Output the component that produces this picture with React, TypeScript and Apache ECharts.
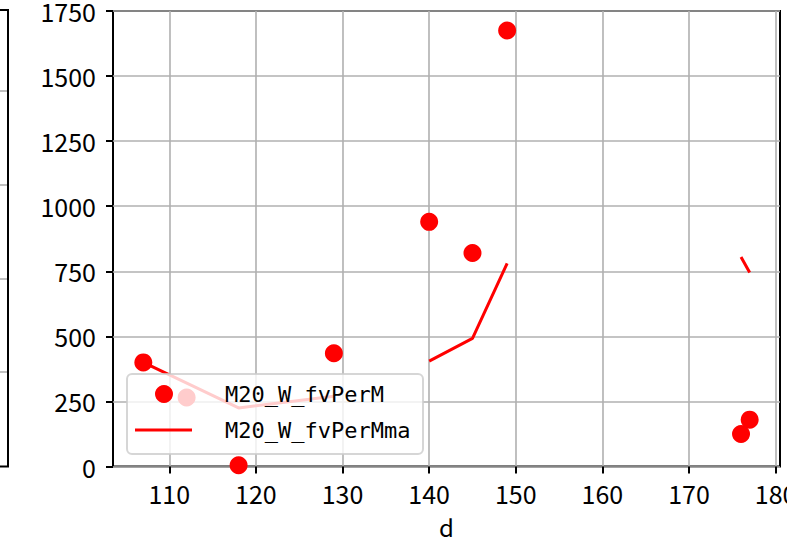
import React, { useEffect, useRef } from "react";
import * as echarts from "echarts";

// Scatter series: M20_W_fvPerM
const scatterD = [107, 112, 118, 129, 140, 145, 149, 176, 177];
const scatterV = [400, 265, 5, 435, 940, 820, 1675, 125, 180];

// Line series: M20_W_fvPerMma (null = gap)
const maD = [107, 118, 129, 134, 140, 145, 149, 160, 176, 177];
const maV: (number | null)[] = [400, 225, 270, null, 405, 492, 780, null, 805, 745];

const xTicks = [110, 120, 130, 140, 150, 160, 170, 180];
const seriesNames = ["M20_W_fvPerM", "M20_W_fvPerMma"];

const RED = "#ff0000";
const TICK_FONT = "'Noto Sans CJK JP', sans-serif";
const LEGEND_FONT = "'DejaVu Sans Mono', monospace";

export default function App() {
  const ref = useRef<HTMLDivElement>(null);
  useEffect(() => {
    if (!ref.current) return;
    const chart = echarts.init(ref.current, null, { renderer: "svg" });
    const L = 113, T = 11, R = 780, B = 466.5;
    chart.setOption({
      animation: false,
      backgroundColor: "#ffffff",
      grid: {
        left: L, top: T, right: 787 - R, bottom: 540 - B,
        outerBoundsMode: "none",
        containLabel: false,
        show: true, borderColor: "#000", borderWidth: 2, backgroundColor: "transparent",
      },
      xAxis: {
        type: "value",
        min: 103.5,
        max: 180.5,
        name: "d",
        nameLocation: "middle",
        nameGap: 48,
        nameTextStyle: { fontFamily: TICK_FONT, fontSize: 24, color: "#000" },
        axisLine: { show: false },
        axisTick: { show: true, length: 7, lineStyle: { color: "#000", width: 2 }, customValues: xTicks },
        axisLabel: { customValues: xTicks, fontFamily: TICK_FONT, fontSize: 25, color: "#000", margin: 14, hideOverlap: false },
        splitLine: { show: true, lineStyle: { color: "#b0b0b0", width: 1.6 } },
      },
      yAxis: {
        type: "value",
        min: 0,
        max: 1750,
        interval: 250,
        axisLine: { show: false },
        axisTick: { show: true, length: 7, lineStyle: { color: "#000", width: 2 } },
        axisLabel: {
          fontFamily: TICK_FONT, fontSize: 25, color: "#000", margin: 17,
          formatter: (v: number) => String(v),
        },
        splitLine: { show: true, lineStyle: { color: "#b0b0b0", width: 1.6 } },
      },
      series: [
        {
          name: seriesNames[0],
          type: "scatter",
          data: scatterD.map((d, i) => [d, scatterV[i]]),
          symbol: "circle",
          symbolSize: 18,
          itemStyle: { color: RED, opacity: 1 },
          z: 3,
        },
        {
          name: seriesNames[1],
          type: "line",
          data: maD.map((d, i) => [d, maV[i] === null ? "-" : maV[i]]),
          showSymbol: false,
          symbol: "none",
          connectNulls: false,
          lineStyle: { color: RED, width: 3 },
          itemStyle: { color: RED },
          z: 2,
        },
      ],
      graphic: [
        // partial neighbouring axes on the left
        { type: "line", shape: { x1: 8, y1: 10, x2: 8, y2: 466.5 }, style: { stroke: "#000", lineWidth: 2 }, z: 10 },
        { type: "line", shape: { x1: 0, y1: 10, x2: 9, y2: 10 }, style: { stroke: "#000", lineWidth: 2 }, z: 10 },
        { type: "line", shape: { x1: 0, y1: 466.5, x2: 9, y2: 466.5 }, style: { stroke: "#000", lineWidth: 2 }, z: 10 },
        ...[91, 185, 279, 372].map((y) => ({
          type: "line", shape: { x1: 0, y1: y, x2: 7, y2: y }, style: { stroke: "#b0b0b0", lineWidth: 1.6 }, z: 9,
        })),
        // legend
        {
          type: "rect", z: 100,
          shape: { x: 127, y: 374, width: 296, height: 80, r: 5 },
          style: { fill: "rgba(255,255,255,0.8)", stroke: "rgba(204,204,204,0.8)", lineWidth: 2 },
        },
        { type: "circle", z: 101, shape: { cx: 164, cy: 394, r: 9 }, style: { fill: RED } },
        { type: "line", z: 101, shape: { x1: 135, y1: 430, x2: 192, y2: 430 }, style: { stroke: RED, lineWidth: 3 } },
        {
          type: "text", z: 101, x: 225, y: 394,
          style: { text: seriesNames[0], font: `22px ${LEGEND_FONT}`, fill: "#000", verticalAlign: "middle" },
        },
        {
          type: "text", z: 101, x: 225, y: 430,
          style: { text: seriesNames[1], font: `22px ${LEGEND_FONT}`, fill: "#000", verticalAlign: "middle" },
        },
      ],
    });
    return () => chart.dispose();
  }, []);
  return <div ref={ref} style={{ width: 787, height: 540, position: "absolute", left: 0, top: 0 }} />;
}
